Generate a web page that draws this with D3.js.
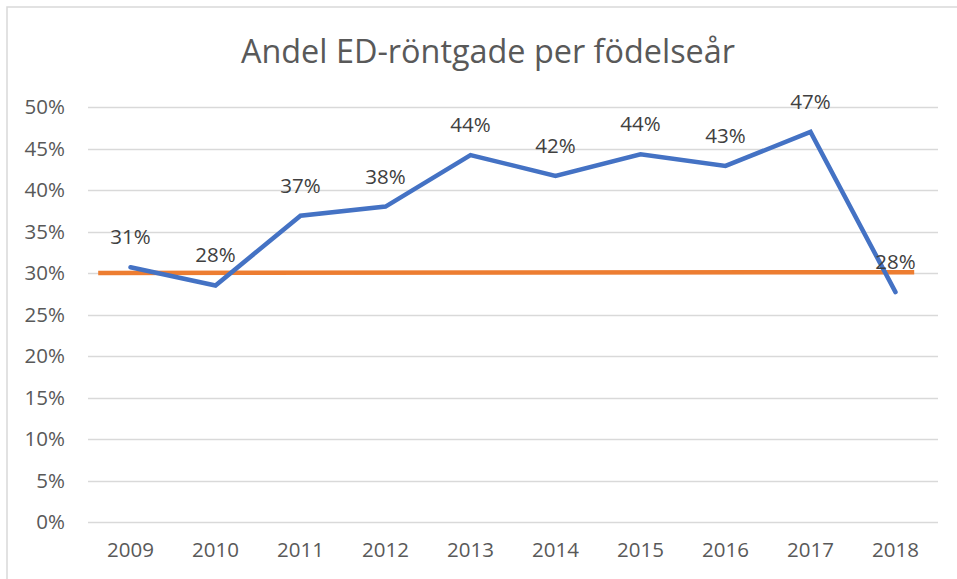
<!DOCTYPE html>
<meta charset="utf-8">
<style>
body { margin: 0; background: #fff; }
text { font-family: "Open Sans", "Liberation Sans", sans-serif; }
.grid line { stroke: #d9d9d9; stroke-width: 1.3px; }
.axis text { fill: #595959; font-size: 20.5px; }
.label { fill: #404040; font-size: 20.5px; }
</style>
<svg width="957" height="579"></svg>
<script src="https://d3js.org/d3.v7.min.js"></script>
<script>

// data
var years = ["2009", "2010", "2011", "2012", "2013", "2014", "2015", "2016", "2017", "2018"];
var share = [0.307, 0.285, 0.369, 0.380, 0.442, 0.417, 0.443, 0.429, 0.470, 0.277];
var shareLabels = ["31%", "28%", "37%", "38%", "44%", "42%", "44%", "43%", "47%", "28%"];
// reference line (category index, value)
var refIndex = [-0.38, 9.22];
var refValue = [0.300, 0.301];
var yTicks = [0, 0.05, 0.10, 0.15, 0.20, 0.25, 0.30, 0.35, 0.40, 0.45, 0.50];
var title = "Andel ED-röntgade per födelseår";

var svg = d3.select("svg"),
    width = +svg.attr("width"),
    height = +svg.attr("height");

var margin = {top: 107, right: 19, bottom: 57, left: 88};

var x = d3.scaleBand()
    .domain(years)
    .range([margin.left, width - margin.right]);

var xi = d3.scaleLinear()
    .domain([-0.5, years.length - 0.5])
    .range([margin.left, width - margin.right]);

var y = d3.scaleLinear()
    .domain([0, 0.5])
    .range([height - margin.bottom, margin.top]);

// frame (top and left edge visible)
svg.append("path")
    .attr("d", "M7,579V7H957")
    .attr("fill", "none")
    .attr("stroke", "#d9d9d9")
    .attr("stroke-width", 1.5);

svg.append("text")
    .attr("x", 488)
    .attr("y", 63)
    .attr("text-anchor", "middle")
    .attr("fill", "#595959")
    .style("font-size", "32.4px")
    .text(title);

// grid
svg.append("g")
    .attr("class", "grid")
  .selectAll("line")
  .data(yTicks)
  .enter().append("line")
    .attr("x1", margin.left)
    .attr("x2", width - margin.right)
    .attr("y1", function(d) { return Math.round(y(d)) + 0.5; })
    .attr("y2", function(d) { return Math.round(y(d)) + 0.5; });

// y axis labels
var yAxis = svg.append("g")
    .attr("class", "axis")
    .attr("transform", "translate(" + (margin.left - 23) + ",0)")
    .call(d3.axisLeft(y).tickValues(yTicks).tickSize(0).tickPadding(0).tickFormat(d3.format(".0%")));
yAxis.select(".domain").remove();

var xAxis = svg.append("g")
    .attr("class", "axis")
    .attr("transform", "translate(0," + (height - margin.bottom + 20) + ")")
    .call(d3.axisBottom(x).tickSize(0).tickPadding(0));
xAxis.select(".domain").remove();

svg.selectAll(".axis text").style("font-family", "'Open Sans', sans-serif");

// reference line
var ref = refIndex.map(function(d, i) { return [d, refValue[i]]; });
svg.append("path")
    .datum(ref)
    .attr("fill", "none")
    .attr("stroke", "#ed7d31")
    .attr("stroke-width", 4.5)
    .attr("d", d3.line()
        .x(function(d) { return xi(d[0]); })
        .y(function(d) { return y(d[1]); }));

// main series
var pts = years.map(function(d, i) { return {year: d, v: share[i], label: shareLabels[i]}; });
svg.append("path")
    .datum(pts)
    .attr("fill", "none")
    .attr("stroke", "#4472c4")
    .attr("stroke-width", 4.5)
    .attr("stroke-linejoin", "miter")
    .attr("stroke-linecap", "round")
    .attr("d", d3.line()
        .x(function(d) { return x(d.year) + x.bandwidth() / 2; })
        .y(function(d) { return y(d.v); }));

svg.append("g")
  .selectAll("text")
  .data(pts)
  .enter().append("text")
    .attr("class", "label")
    .attr("x", function(d) { return x(d.year) + x.bandwidth() / 2; })
    .attr("y", function(d) { return y(d.v) - 23; })
    .attr("text-anchor", "middle")
    .text(function(d) { return d.label; });

</script>
